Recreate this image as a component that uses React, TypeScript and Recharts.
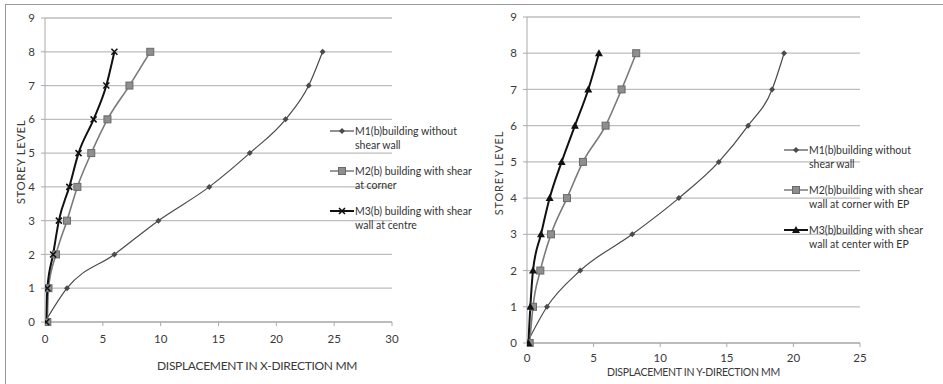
import {
  CartesianGrid,
  Line,
  LineChart,
  XAxis,
  YAxis,
} from "recharts";

// storey levels 0..8
const levels = [0, 1, 2, 3, 4, 5, 6, 7, 8];

// X-direction displacement (mm)
const xM1 = [0, 1.9, 6.0, 9.8, 14.2, 17.7, 20.8, 22.8, 24.0];
const xM2 = [0.2, 0.3, 0.95, 1.9, 2.8, 4.0, 5.4, 7.3, 9.1];
const xM3 = [0.1, 0.2, 0.7, 1.2, 2.1, 2.9, 4.2, 5.3, 6.0];

// Y-direction displacement (mm)
const yM1 = [0, 1.5, 4.0, 7.9, 11.4, 14.4, 16.6, 18.4, 19.3];
const yM2 = [0.2, 0.45, 1.0, 1.8, 3.0, 4.2, 5.9, 7.1, 8.2];
const yM3 = [0.1, 0.25, 0.45, 1.05, 1.7, 2.6, 3.6, 4.6, 5.4];

const xTicksLeft = [0, 5, 10, 15, 20, 25, 30];
const xTicksRight = [0, 5, 10, 15, 20, 25];
const yTicks = [0, 1, 2, 3, 4, 5, 6, 7, 8, 9];

const leftNames = [
  ["M1(b)building without", "shear wall"],
  ["M2(b) building with shear", "at corner"],
  ["M3(b) building with shear", "wall at centre"],
];
const rightNames = [
  ["M1(b)building without", "shear wall"],
  ["M2(b)building with shear", "wall at corner with EP"],
  ["M3(b)building with shear", "wall at center with EP"],
];

const font = "Lato, 'Open Sans', sans-serif";
const textColor = "#3a3a3a";
const gridColor = "#bdbdbd";
const colors = { m1: "#4a4a4a", m2: "#7a7a7a", m3: "#111" };

function toPoints(values: number[]) {
  return values.map((d, i) => ({ d, level: levels[i] }));
}

type Marker = "diamond" | "square" | "cross" | "triangle";

function markerShape(kind: Marker, cx: number, cy: number, key?: string) {
  if (kind === "diamond") {
    return <path key={key} d={`M${cx},${cy - 3} L${cx + 3},${cy} L${cx},${cy + 3} L${cx - 3},${cy} Z`} fill={colors.m1} />;
  }
  if (kind === "square") {
    return <rect key={key} x={cx - 3.5} y={cy - 3.5} width={7} height={7} fill="#8e8e8e" stroke="#6a6a6a" strokeWidth={1} />;
  }
  if (kind === "cross") {
    return (
      <path key={key} d={`M${cx - 3},${cy - 3} L${cx + 3},${cy + 3} M${cx + 3},${cy - 3} L${cx - 3},${cy + 3}`} stroke={colors.m3} strokeWidth={1.6} />
    );
  }
  return <path key={key} d={`M${cx},${cy - 4} L${cx + 4},${cy + 3} L${cx - 4},${cy + 3} Z`} fill={colors.m3} />;
}

function dotFor(kind: Marker) {
  return (props: any) => markerShape(kind, props.cx, props.cy, `${kind}-${props.index}`);
}

function LegendBox({ names, markers, left, top }: { names: string[][]; markers: Marker[]; left: number; top: number }) {
  const lineColors = [colors.m1, colors.m2, colors.m3];
  const widths = [1.2, 1.5, 2];
  return (
    <div
      style={{
        position: "absolute",
        left,
        top,
        fontFamily: font,
        fontSize: 10.5,
        color: "#333",
        lineHeight: "14px",
        whiteSpace: "nowrap",
      }}
    >
      {names.map((lines, i) => (
        <div key={i} style={{ display: "flex", alignItems: "flex-start", marginBottom: 12 }}>
          <svg width={24} height={14} style={{ flex: "none" }}>
            <line x1={0} y1={7} x2={24} y2={7} stroke={lineColors[i]} strokeWidth={widths[i]} />
            {markerShape(markers[i], 12, 7)}
          </svg>
          <div style={{ marginLeft: 1 }}>
            {lines.map((t) => (
              <div key={t}>{t}</div>
            ))}
          </div>
        </div>
      ))}
    </div>
  );
}

function Panel({
  m1,
  m2,
  m3,
  xMax,
  xTicks,
  m3Marker,
  margin,
  width,
  xTickMargin,
}: {
  m1: number[];
  m2: number[];
  m3: number[];
  xMax: number;
  xTicks: number[];
  m3Marker: Marker;
  margin: { top: number; right: number; bottom: number; left: number };
  width: number;
  xTickMargin: number;
}) {
  return (
    <LineChart width={width} height={384} margin={margin}>
      <CartesianGrid vertical={false} stroke={gridColor} strokeWidth={1.3} />
      <XAxis
        type="number"
        dataKey="d"
        domain={[0, xMax]}
        ticks={xTicks}
        allowDataOverflow
        stroke="#aaa"
        tickSize={4}
        tickMargin={xTickMargin}
        height={24}
        tick={{ fill: textColor, fontSize: 11.5, fontFamily: font }}
      />
      <YAxis
        type="number"
        dataKey="level"
        domain={[0, 9]}
        ticks={yTicks}
        stroke="#aaa"
        tickSize={4}
        tickMargin={6}
        width={30}
        tick={{ fill: textColor, fontSize: 11.5, fontFamily: font }}
      />
      <Line
        data={toPoints(m1)}
        dataKey="level"
        type="monotone"
        stroke={colors.m1}
        strokeWidth={1.2}
        dot={dotFor("diamond")}
        isAnimationActive={false}
      />
      <Line
        data={toPoints(m2)}
        dataKey="level"
        type="monotone"
        stroke={colors.m2}
        strokeWidth={1.6}
        dot={dotFor("square")}
        isAnimationActive={false}
      />
      <Line
        data={toPoints(m3)}
        dataKey="level"
        type="monotone"
        stroke={colors.m3}
        strokeWidth={2}
        dot={dotFor(m3Marker)}
        isAnimationActive={false}
      />
    </LineChart>
  );
}

const axisTitle: React.CSSProperties = {
  position: "absolute",
  fontFamily: font,
  color: textColor,
  whiteSpace: "nowrap",
  letterSpacing: "-0.3px",
};

export default function App() {
  return (
    <div style={{ position: "relative", width: 943, height: 384, background: "#fff", overflow: "hidden" }}>
      <style>{`body{margin:0}`}</style>
      <div
        style={{
          position: "absolute",
          left: 5,
          top: 4,
          width: 960,
          height: 400,
          borderLeft: "1px solid #999",
          borderTop: "1px solid #999",
        }}
      />
      <div style={{ position: "absolute", left: 0, top: 0 }}>
        <Panel
          m1={xM1}
          m2={xM2}
          m3={xM3}
          xMax={30}
          xTicks={xTicksLeft}
          m3Marker="cross"
          width={470}
          xTickMargin={9}
          margin={{ top: 18, right: 78, bottom: 38, left: 15 }}
        />
      </div>
      <div style={{ position: "absolute", left: 470, top: 0 }}>
        <Panel
          m1={yM1}
          m2={yM2}
          m3={yM3}
          xMax={25}
          xTicks={xTicksRight}
          m3Marker="triangle"
          width={473}
          xTickMargin={7}
          margin={{ top: 17, right: 83, bottom: 17, left: 27 }}
        />
      </div>
      <LegendBox names={leftNames} markers={["diamond", "square", "cross"]} left={330} top={124} />
      <LegendBox names={rightNames} markers={["diamond", "square", "triangle"]} left={784} top={143} />
      <div style={{ ...axisTitle, left: 157, top: 358, fontSize: 12 }}>DISPLACEMENT IN X-DIRECTION MM</div>
      <div style={{ ...axisTitle, left: 607, top: 366, fontSize: 10.5 }}>DISPLACEMENT IN Y-DIRECTION MM</div>
      <div
        style={{
          ...axisTitle,
          left: 20,
          top: 162,
          fontSize: 11.5,
          letterSpacing: "0.5px",
          transform: "translate(-50%, -50%) rotate(-90deg)",
        }}
      >
        STOREY  LEVEL
      </div>
      <div
        style={{
          ...axisTitle,
          left: 498,
          top: 173,
          fontSize: 11,
          letterSpacing: "0.8px",
          transform: "translate(-50%, -50%) rotate(-90deg)",
        }}
      >
        STOREY LEVEL
      </div>
    </div>
  );
}
